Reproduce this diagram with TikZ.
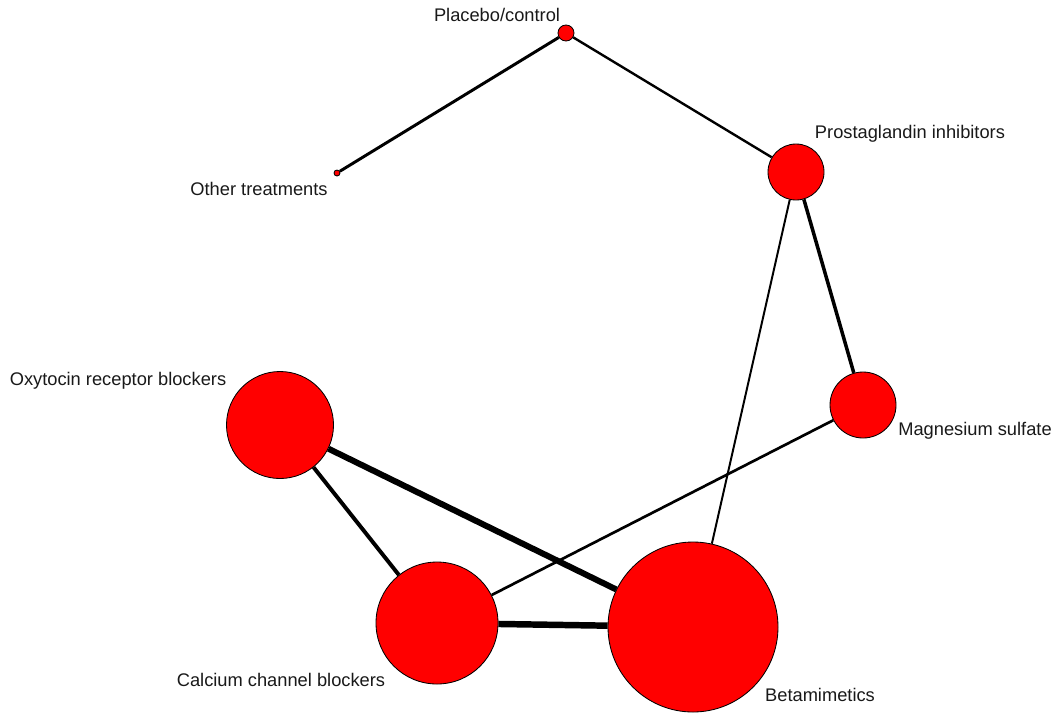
\documentclass[tikz,border=0pt]{standalone}
\usepackage{fontspec}
\setmainfont{Liberation Sans}
\usetikzlibrary{positioning}
\definecolor{rouge}{RGB}{255,0,0}
\definecolor{texte}{RGB}{25,25,25}

\begin{document}
\begin{tikzpicture}[x=0.025cm,y=-0.025cm,font=\fontsize{13}{15}\selectfont,
		trt/.style={circle,draw=black,fill=rouge,line width=0.6pt,inner sep=0pt,minimum size=#1*0.025cm},
		nom/.style={text=texte,inner sep=0pt},
		lien/.style={draw=black,line width=#1}]
	\useasboundingbox (0,0) rectangle (1057,713);
	
	% treatments (circle size = number of patients)
	\node[trt=16](pla) at (566,33){};
	\node[trt=6](oth) at (337,173){};
	\node[trt=56](pro) at (796,172){};
	\node[trt=66](mag) at (863,405){};
	\node[trt=107](oxy) at (280,425){};
	\node[trt=122](cal) at (437,623){};
	\node[trt=170](bet) at (693,627){};
	
	\node[nom](pla-t) at (497,15){Placebo/control};
	\node[nom](oth-t) at (259,189){Other treatments};
	\node[nom](pro-t) at (910,134){Prostaglandin inhibitors};
	\node[nom](mag-t) at (975,431){Magnesium sulfate};
	\node[nom](oxy-t) at (118,381){Oxytocin receptor blockers};
	\node[nom](cal-t) at (281,680){Calcium channel blockers};
	\node[nom](bet-t) at (820,695){Betamimetics};
	
	% comparisons (width = number of trials)
	\draw[lien=2.1pt](pla)--(oth);
	\draw[lien=1.7pt](pla)--(pro);
	\draw[lien=1.4pt](pro)--(bet);
	\draw[lien=2.5pt](pro)--(mag);
	\draw[lien=1.9pt](mag)--(cal);
	\draw[lien=4.3pt](oxy)--(bet);
	\draw[lien=2.8pt](oxy)--(cal);
	\draw[lien=4.6pt](cal)--(bet);
\end{tikzpicture}
\end{document}
